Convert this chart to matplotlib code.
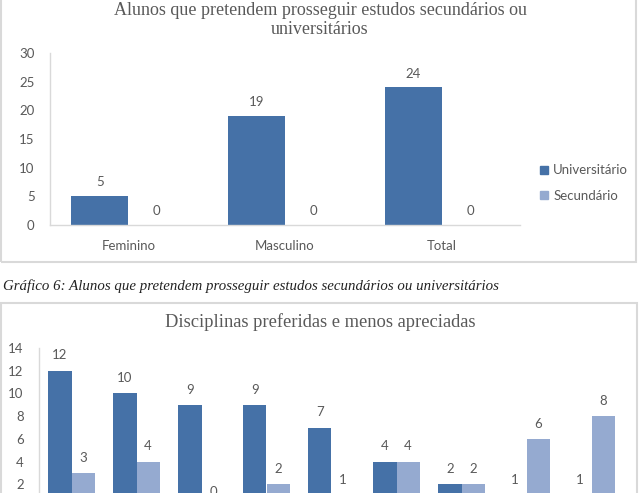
import matplotlib
matplotlib.use("Agg")
import matplotlib.pyplot as plt
from matplotlib.patches import Rectangle, Patch
import numpy as np

# chart 1 data
grupos = ["Feminino", "Masculino", "Total"]
universitario = [5, 19, 24]
secundario = [0, 0, 0]

# chart 2 data (category labels are cut off in the reference)
preferidas = [12, 10, 9, 9, 7, 4, 2, 1, 1]
menos_apreciadas = [3, 4, 0, 2, 1, 4, 2, 6, 8]

titulo1 = "Alunos que pretendem prosseguir estudos secundários ou\nuniversitários"
titulo2 = "Disciplinas preferidas e menos apreciadas"
legenda = "Gráfico 6: Alunos que pretendem prosseguir estudos secundários ou universitários"

DARK = "#4571a7"
LIGHT = "#95aad0"
GREY = "#595959"
BORDER = "#d9d9d9"
W, H = 642, 493
FS = 9.5

fig = plt.figure(figsize=(W / 100, H / 100), dpi=100)
fig.patch.set_facecolor("white")


def fx(px):
    return px / W


def fy(py):
    return 1 - py / H


# chart frames
fig.patches.append(Rectangle((fx(1), fy(262)), fx(635), 0.1 + 262 / H, transform=fig.transFigure,
                             fill=False, edgecolor=BORDER, linewidth=1.5))
fig.patches.append(Rectangle((fx(1), fy(600)), fx(636), (600 - 303) / H, transform=fig.transFigure,
                             fill=False, edgecolor=BORDER, linewidth=1.5))


def style_axes(ax):
    for s in ["top", "right"]:
        ax.spines[s].set_visible(False)
    for s in ["left", "bottom"]:
        ax.spines[s].set_color(BORDER)
        ax.spines[s].set_linewidth(1.0)
    ax.tick_params(length=0, colors=GREY, labelsize=FS)
    for lab in ax.get_xticklabels() + ax.get_yticklabels():
        lab.set_fontfamily("Lato")


def label_bars(ax, bars, vals, off):
    for b, v in zip(bars, vals):
        ax.annotate(str(v), (b.get_x() + b.get_width() / 2, v), xytext=(0, off),
                    textcoords="offset points", ha="center", va="center",
                    fontsize=FS, color=GREY, family="Lato")


# top chart
ax1 = fig.add_axes([fx(50), fy(225), fx(470), (225 - 53) / H])
x = np.arange(len(grupos))
w = 0.363
b1 = ax1.bar(x - w / 2, universitario, w, color=DARK, label="Universitário")
b2 = ax1.bar(x + w / 2, secundario, w, color=LIGHT, label="Secundário")
ax1.set_xlim(-0.5, len(grupos) - 0.5)
ax1.set_ylim(0, 30)
ax1.set_yticks(range(0, 31, 5))
ax1.set_xticks(x)
ax1.set_xticklabels(grupos)
ax1.tick_params(axis="y", pad=11)
ax1.tick_params(axis="x", pad=11)
style_axes(ax1)
label_bars(ax1, b1, universitario, 10)
label_bars(ax1, b2, secundario, 10)
ax1.legend(handles=[Patch(color=DARK, label="Universitário"), Patch(color=LIGHT, label="Secundário")],
           loc="center left", bbox_to_anchor=(fx(528), fy(183)), bbox_transform=fig.transFigure,
           frameon=False, handlelength=0.6, handleheight=0.6, handletextpad=0.4,
           labelspacing=1.0, prop={"family": "Lato", "size": FS}, labelcolor=GREY)

fig.text(fx(320), fy(20), titulo1, ha="center", va="center", fontsize=13,
         family="Liberation Serif", color=GREY, linespacing=1.1)

# caption
fig.text(fx(3), fy(286), legenda, ha="left", va="center", fontsize=10.7,
         family="Liberation Serif", style="italic", color="#222222")

# bottom chart (cut off at the bottom of the page)
ax2 = fig.add_axes([fx(39), fy(507), fx(585), (507 - 348) / H])
x2 = np.arange(len(preferidas))
w2 = 0.36
c1 = ax2.bar(x2 - w2 / 2, preferidas, w2, color=DARK)
c2 = ax2.bar(x2 + w2 / 2, menos_apreciadas, w2, color=LIGHT)
ax2.set_xlim(-0.5, len(preferidas) - 0.5)
ax2.set_ylim(0, 14)
ax2.set_yticks(range(0, 15, 2))
ax2.set_xticks([])
ax2.tick_params(axis="y", pad=11)
style_axes(ax2)
label_bars(ax2, c1, preferidas, 11)
label_bars(ax2, c2, menos_apreciadas, 11)

fig.text(fx(320), fy(322), titulo2, ha="center", va="center", fontsize=13.3,
         family="Liberation Serif", color=GREY)

fig.savefig("out.png", dpi=100)
